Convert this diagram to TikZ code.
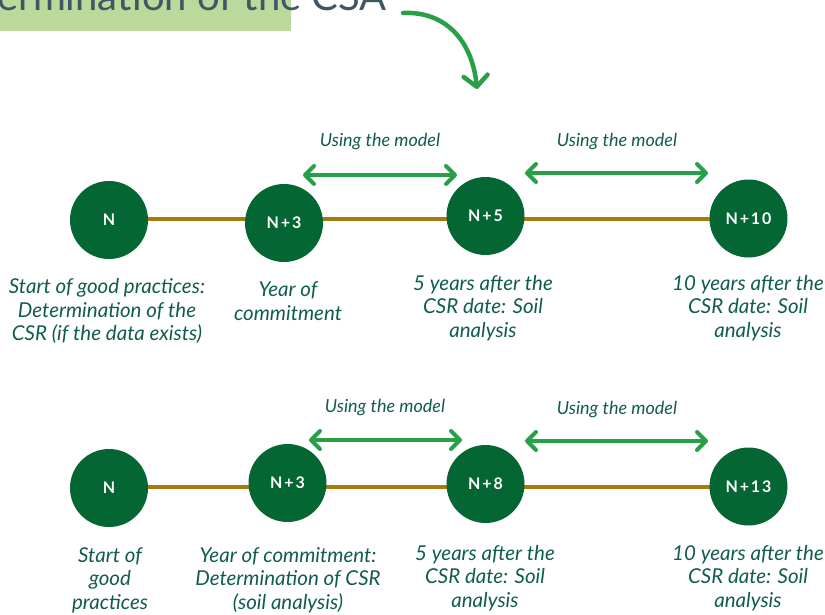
\documentclass[tikz,border=0pt]{standalone}
\usepackage{fontspec}
\setmainfont{Lato}
\newfontfamily\yearfont[LetterSpace=12]{Lato}
\usetikzlibrary{arrows.meta,backgrounds}
\definecolor{banner}{RGB}{187,217,155}
\definecolor{titlegray}{RGB}{62,86,102}
\definecolor{nodegreen}{RGB}{4,102,51}
\definecolor{linebrown}{RGB}{168,122,12}
\definecolor{arrowgreen}{RGB}{40,160,72}
\definecolor{labelteal}{RGB}{16,92,78}
\begin{document}
\begin{tikzpicture}[x=1pt,y=-1pt,
  yearnode/.style={circle, fill=nodegreen, minimum size=78pt, inner sep=0pt, text=white, font=\yearfont\bfseries\fontsize{16}{19}\selectfont},
  caption/.style={align=center, text=labelteal, font=\itshape\fontsize{20.5}{23.5}\selectfont},
  timeline/.style={draw=linebrown, line width=4pt},
  span/.style={draw=arrowgreen, line width=4pt, line cap=round,
    {Straight Barb[length=9pt,width=18pt,line cap=round,line join=round]}-{Straight Barb[length=9pt,width=18pt,line cap=round,line join=round]}},
  spanlabel/.style={text=labelteal, font=\itshape\fontsize{18}{21}\selectfont},
  title/.style={text=titlegray, font=\fontsize{40}{44}\selectfont, inner sep=0pt}]
\useasboundingbox (0,0) rectangle (825,614);
\begin{scope}
  \clip (0,0) rectangle (825,614);
  \fill[banner] (0,0) rectangle (291,31);
  \node[title, anchor=base east] (title) at (387,10) {Determination of the CSA};
\end{scope}
% curved arrow
\coordinate (cs) at (403,13);
\coordinate (ce) at (477,89);
\draw[draw=arrowgreen, line width=4.5pt, line cap=round, -{Straight Barb[length=11pt,width=24pt,line cap=round,line join=round]}]
  (cs) .. controls (445,11) and (472,40) .. (ce);

% row 1
\coordinate (r1) at (0,219);
\node[yearnode] (a1) at (109,220) {N};
\node[yearnode] (a2) at (284,223) {N+3};
\node[yearnode] (a3) at (485.5,216) {N+5};
\node[yearnode] (a4) at (748.5,218.5) {N+10};
\begin{pgfonlayer}{background}
\draw[timeline] (a1.center |- r1) -- (a4.center |- r1);
\end{pgfonlayer}

\coordinate (s1l) at (303,175);
\coordinate (s1r) at (457,175);
\coordinate (s2l) at (525,173);
\coordinate (s2r) at (708,173);
\draw[span] (s1l) -- (s1r);
\draw[span] (s2l) -- (s2r);
\node[spanlabel] (u1) at (380,142) {Using the model};
\node[spanlabel] (u2) at (617,142) {Using the model};

\node[caption] (c1) at (107,311) {Start of good practices:\\Determination of the\\CSR (if the data exists)};
\node[caption] (c2) at (288,301) {Year of\\commitment};
\node[caption] (c3) at (483,308) {5 years after the\\CSR date: Soil\\analysis};
\node[caption] (c4) at (748,308) {10 years after the\\CSR date: Soil\\analysis};

% row 2
\coordinate (r2) at (0,487);
\node[yearnode] (b1) at (109,488) {N};
\node[yearnode] (b2) at (287.5,483) {N+3};
\node[yearnode] (b3) at (485.5,484) {N+8};
\node[yearnode] (b4) at (748.5,486.5) {N+13};
\begin{pgfonlayer}{background}
\draw[timeline] (b1.center |- r2) -- (b4.center |- r2);
\end{pgfonlayer}

\coordinate (t1l) at (309,440);
\coordinate (t1r) at (462,440);
\coordinate (t2l) at (525,441);
\coordinate (t2r) at (708,441);
\draw[span] (t1l) -- (t1r);
\draw[span] (t2l) -- (t2r);
\node[spanlabel] (v1) at (385,408) {Using the model};
\node[spanlabel] (v2) at (617,410) {Using the model};

\node[caption] (d1) at (110,580) {Start of\\good\\practices};
\node[caption] (d2) at (288,580) {Year of commitment:\\Determination of CSR\\(soil analysis)};
\node[caption] (d3) at (485,578) {5 years after the\\CSR date: Soil\\analysis};
\node[caption] (d4) at (748,578) {10 years after the\\CSR date: Soil\\analysis};
\end{tikzpicture}
\end{document}
